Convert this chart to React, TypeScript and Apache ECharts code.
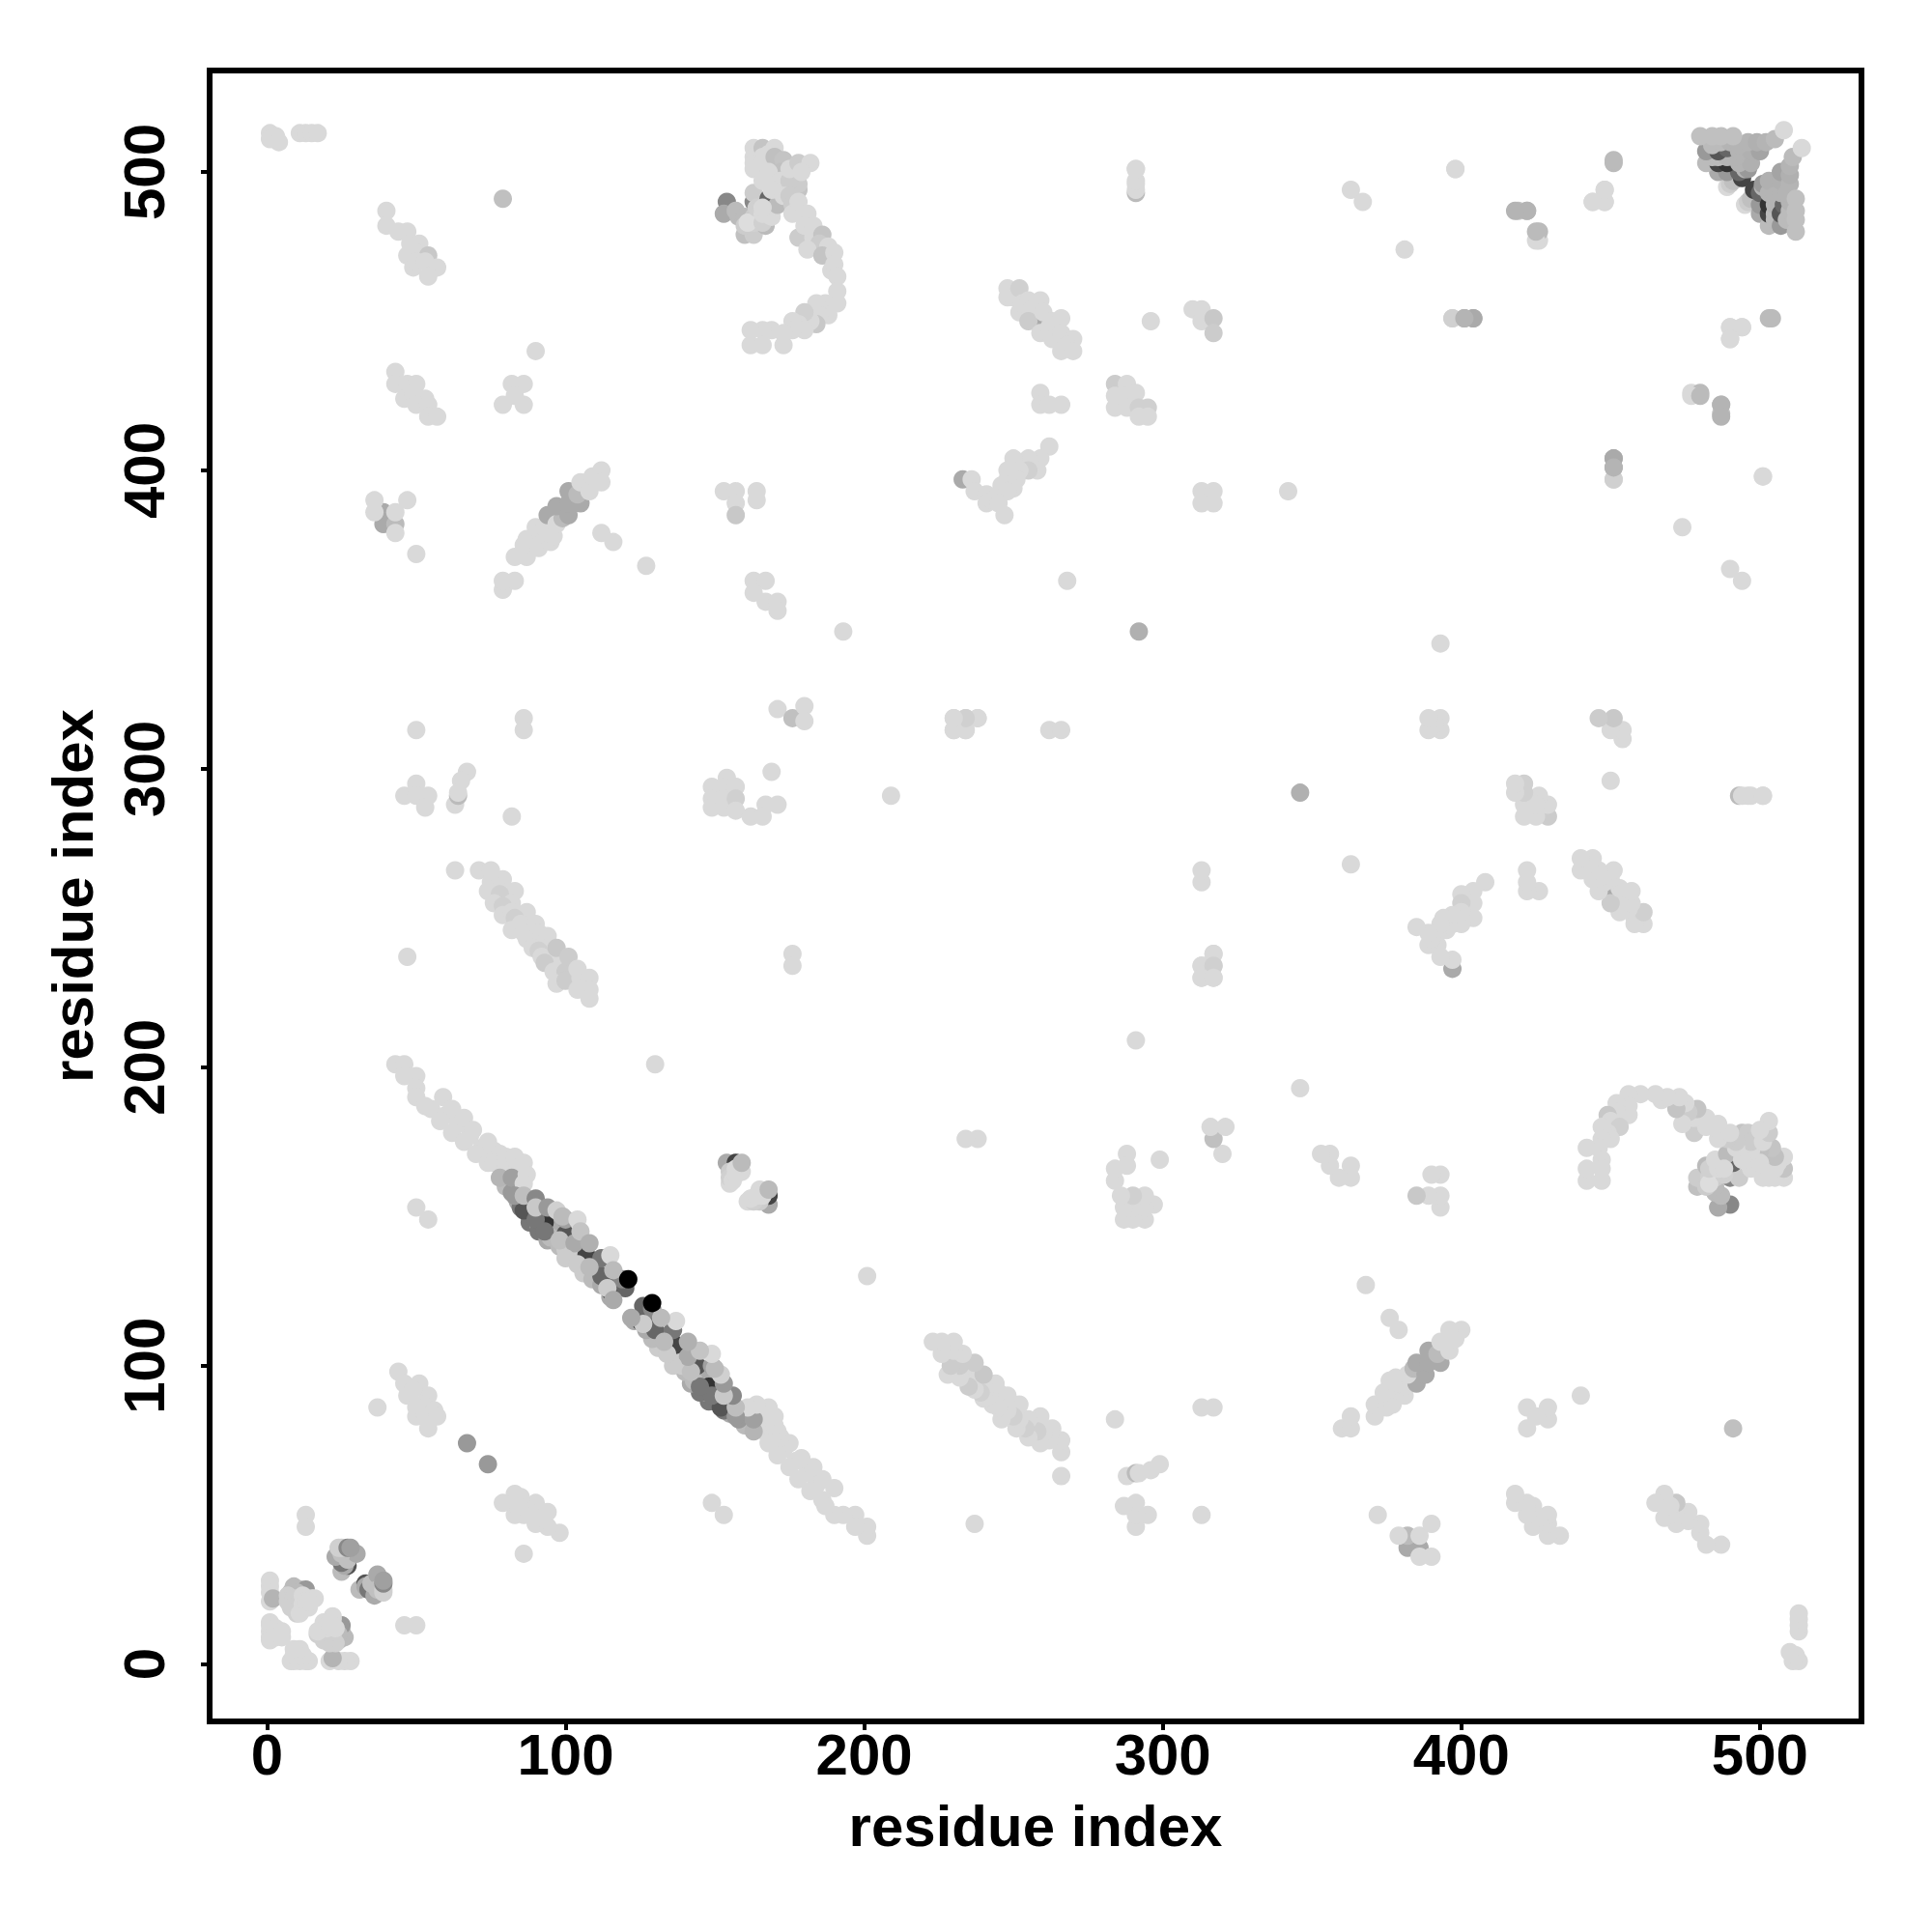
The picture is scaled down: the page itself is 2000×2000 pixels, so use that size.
import React, { useEffect, useRef } from "react";
import * as echarts from "echarts";

type P = [number, number, number];
const L = 217;
const tickValues = [0, 100, 200, 300, 400, 500];
const axisTitle = "residue index";

const cornerLow: P[] = [
  [1, 28, L], [1, 26, L], [1, 24, L], [1, 21, L], [2, 22, 180], [1, 14, L], [1, 13, L], [1, 11, L], [1, 9, L], [1, 8, L], [3, 12, L], [3, 9, L], [5, 11, L], [5, 9, L],
  [9, 26, 187], [11, 25, 187], [13, 25, 153], [8, 24, 187], [10, 24, 187], [7, 23, 208], [7, 21, 208], [9, 22, 208], [10, 20, 208], [8, 19, 208], [10, 17, 208], [11, 19, 208], [12, 20, L], [12, 23, L], [15, 22, L], [16, 22, L], [13, 19, L], [14, 19, L], [11, 17, L], [13, 21, L], [14, 21, L],
  [13, 50, L], [13, 46, L],
  [25, 31, 187], [27, 33, 85], [26, 33, 170], [25, 34, 119], [23, 36, 170], [27, 35, 192], [30, 37, 170], [25, 37, 192], [24, 39, 208], [25, 39, 208], [27, 39, 136], [28, 39, 160],
];

const chainFill: P[] = [
  [80, 160, 187], [83, 160, 187], [84, 155, 170], [87, 155, 153], [82, 158, 153], [85, 153, 119], [88, 150, 119], [88, 148, 119], [91, 151, 136], [91, 147, 153], [91, 145, 119], [94, 150, 153], [94, 146, 119], [94, 142, 170], [97, 147, 170], [95, 143, 187], [98, 140, 187], [101, 143, 119], [101, 140, 187], [104, 138, 170], [100, 139, 204], [103, 136, 204], [107, 134, 187], [106, 131, 204], [110, 132, 153], [109, 129, 187], [113, 128, 119], [112, 127, 170], [116, 127, 119], [115, 123, 170],
];

const chainUpper: P[] = [
  [43, 201, L], [46, 201, L], [50, 197, L], [46, 197, L], [50, 193, L], [50, 190, L], [59, 190, L], [55, 186, L], [53, 187, L], [60, 184, L], [62, 186, L], [58, 182, L], [64, 181, L], [66, 183, L], [62, 178, L], [68, 177, L], [69, 179, L], [66, 175, L], [72, 173, L], [74, 175, L], [70, 171, L], [76, 172, L], [78, 171, L], [74, 168, L], [76, 168, L], [80, 167, L], [80, 170, L], [84, 166, L],
  [78, 163, 181], [82, 163, 160], [83, 170, L], [86, 168, L], [87, 164, L], [86, 161, L],
  [93, 148, 51], [107, 137, 68], [115, 125, 51], [86, 152, 85], [100, 144, 85],
  [83, 157, 153], [86, 157, 190], [90, 149, 119], [93, 145, 119], [112, 130, 102], [120, 126, 102], [112, 136, 119],
  [90, 156, 136], [90, 153, 200], [94, 153, 153], [97, 152, 208], [100, 149, 160], [98, 142, 192], [99, 150, 187], [104, 149, L], [103, 141, 170], [105, 145, 196], [108, 141, 176], [100, 136, 204], [104, 134, 204], [108, 133, 187], [119, 129, 136], [114, 126, 204], [116, 122, 170], [115, 137, L], [116, 132, 187], [121, 129, 0],
];

const chainPair: P[] = [
  [154, 168, 170], [157, 168, 68], [155, 165, 204], [158, 165, 208], [155, 161, L], [155, 163, 208], [156, 162, L], [157, 166, L], [159, 165, L], [157, 164, L], [159, 168, 187],
];

const leftSpots: P[] = [
  [37, 86, L], [44, 98, L], [46, 94, L], [51, 94, L], [47, 90, L], [54, 90, L], [49, 92, L], [52, 87, L], [50, 83, L], [50, 86, L], [53, 84, L], [56, 85, L], [57, 83, L], [54, 79, L], [67, 74, 153], [54, 149, L], [50, 153, L],
  [47, 237, L], [130, 201, L], [50, 313, L], [86, 317, L], [86, 313, L], [171, 320, L], [176, 317, 192], [180, 321, L], [180, 316, L], [193, 346, L], [209, 291, L], [82, 284, L], [169, 299, L], [176, 238, L], [176, 234, L],
];

const band63: P[] = [
  [63, 266, L], [71, 266, L], [75, 266, L], [79, 263, L], [75, 262, L], [77, 260, L], [74, 259, L], [83, 259, L], [78, 258, 208], [76, 255, L], [82, 255, L], [79, 254, 208], [79, 251, L], [82, 252, L], [87, 252, L], [83, 250, 208], [85, 248, L], [88, 246, L], [90, 248, L], [82, 246, L], [86, 245, L], [91, 245, L], [87, 243, L], [90, 242, L], [94, 244, L], [89, 240, L], [94, 240, L], [91, 239, 208], [92, 237, L], [96, 236, L], [97, 240, 200], [93, 235, 204], [101, 234, 170], [98, 233, L], [96, 232, L], [100, 232, 204], [101, 237, 204], [97, 228, L], [100, 229, 204], [104, 233, L], [104, 226, L], [105, 230, L], [108, 230, L], [108, 226, L], [108, 223, L],
];

const mid290: P[] = [
  [67, 299, L], [65, 296, L], [63, 288, L], [64, 291, 187], [64, 292, L], [46, 291, L], [50, 295, L], [50, 291, L], [54, 291, L], [53, 287, L],
  [149, 294, L], [149, 290, L], [149, 287, L], [154, 297, L], [153, 294, L], [153, 290, L], [153, 287, L], [157, 294, L], [157, 290, 208], [157, 286, L], [171, 288, L], [167, 288, L], [162, 284, L], [166, 284, L],
];

const top514: P[] = [
  [1, 513, L], [1, 511, L], [3, 512, L], [4, 510, L], [11, 513, L], [13, 513, L], [15, 513, L], [17, 513, L],
  [40, 487, L], [40, 482, L], [44, 480, L], [47, 480, L], [48, 476, L], [51, 476, L], [47, 472, L], [50, 473, L], [52, 472, L], [54, 472, 200], [49, 468, L], [50, 470, L], [53, 470, L], [57, 468, L], [54, 465, L],
  [79, 491, 192], [90, 440, L], [43, 433, L], [43, 429, L], [47, 429, L], [50, 429, L], [46, 424, L], [49, 426, L], [53, 424, L], [50, 422, L], [54, 422, L], [54, 418, L], [57, 418, L],
  [82, 429, L], [86, 429, L], [79, 422, L], [86, 422, L], [83, 425, L],
  [39, 386, 170], [39, 382, 170], [36, 390, L], [36, 386, L], [43, 382, 187], [43, 386, L], [43, 379, L], [47, 390, L], [50, 372, L],
];

const arc385: P[] = [
  [83, 371, L], [87, 371, L], [86, 375, L], [87, 377, L], [92, 377, L], [91, 374, L], [95, 376, L], [90, 381, L], [93, 381, L], [94, 379, L], [96, 378, L], [94, 385, 170], [97, 382, L], [99, 384, 187], [97, 388, 170], [101, 385, 170], [101, 389, 170], [101, 393, 170], [105, 389, 170], [104, 392, 187], [105, 396, L], [108, 393, L], [109, 398, L], [112, 400, L], [112, 396, L],
  [112, 379, L], [116, 376, L], [127, 368, L], [79, 360, L], [79, 363, L], [83, 363, L],
];

const cluster160: P[] = [
  [154, 490, 136], [153, 486, 170], [158, 485, 187], [157, 487, 187], [160, 479, 192], [163, 479, 204], [163, 490, 136], [160, 485, 187], [160, 482, 204], [163, 485, 204], [163, 493, 204], [167, 482, 187], [163, 483, 208], [161, 483, 221], [164, 488, 208], [166, 483, 208], [166, 486, L], [169, 485, L],
  [168, 491, 102], [168, 503, 153], [170, 499, 170], [171, 495, 187], [171, 489, 187], [163, 508, L], [163, 505, L], [163, 503, L], [163, 501, L], [166, 508, 196], [166, 505, L], [166, 503, L], [170, 508, L], [168, 506, L], [170, 505, 192], [173, 504, 196], [172, 500, 192], [166, 497, L], [168, 500, L], [172, 497, L], [169, 494, L], [166, 488, L], [178, 494, 196], [178, 496, 204], [175, 497, 204], [173, 492, L], [175, 492, 204], [175, 501, L], [178, 503, 204], [182, 503, L], [179, 500, L], [176, 489, 204], [176, 486, L], [179, 486, L], [178, 490, L], [181, 486, L], [178, 478, 204], [180, 482, L], [183, 482, L], [183, 478, L], [186, 479, 196], [185, 476, 204], [181, 474, L], [188, 475, L], [186, 472, 196], [190, 473, L], [189, 467, L], [190, 469, L], [191, 465, L], [191, 460, L], [191, 456, L], [187, 456, L], [188, 452, L], [184, 456, L], [185, 452, L], [184, 449, 200], [182, 450, L], [180, 453, 208], [178, 449, L], [176, 450, L], [180, 447, L], [176, 447, L], [173, 446, L], [173, 442, L], [169, 447, L], [166, 447, L], [162, 447, L], [162, 442, L], [166, 442, L],
];

const midUpper: P[] = [
  [291, 493, 187], [291, 501, L], [291, 496, L],
  [258, 450, 170], [248, 461, L], [248, 458, L], [250, 458, L], [252, 461, 208], [252, 453, L], [253, 456, L], [255, 457, L], [256, 454, L], [259, 457, L], [255, 450, 204], [259, 446, L], [260, 453, L], [263, 450, L], [262, 448, L], [264, 447, L], [266, 451, L], [263, 444, L], [266, 446, L], [270, 444, L], [268, 442, L], [266, 440, L], [270, 440, L], [296, 450, L],
  [259, 426, L], [259, 422, L], [262, 422, L], [266, 422, L],
  [284, 429, 204], [288, 429, L], [284, 421, L], [284, 425, L], [291, 426, L], [288, 425, L], [288, 421, L], [292, 421, 208], [295, 421, 208], [292, 418, L], [295, 418, L],
  [233, 397, 170], [262, 408, L], [259, 404, L], [255, 404, L], [250, 404, L], [258, 400, L], [255, 400, 208], [248, 400, L], [252, 400, L], [248, 397, L], [251, 397, L], [246, 395, L], [250, 394, L], [236, 397, L], [237, 393, L], [241, 392, L], [245, 392, L], [248, 393, L], [241, 389, L], [243, 390, L], [245, 389, L], [247, 385, L],
  [153, 393, L], [157, 393, L], [157, 389, L], [157, 385, 200], [164, 393, L], [164, 390, L],
  [163, 363, L], [167, 363, L], [163, 359, L], [167, 356, L], [171, 356, L], [171, 353, L], [268, 363, L],
];

const rightUpper: P[] = [
  [342, 393, L], [313, 393, L], [317, 393, L], [315, 391, L], [313, 389, L], [317, 389, L],
  [363, 494, L], [367, 490, L], [381, 474, L],
  [310, 454, L], [313, 454, L], [313, 450, L], [317, 451, 200], [317, 446, 204],
  [398, 501, L], [451, 503, 187], [419, 487, 192], [422, 487, 192], [426, 477, L], [426, 480, 187], [444, 490, L], [448, 490, L], [448, 494, L],
  [397, 451, L], [401, 451, 176], [404, 451, 176],
  [490, 448, L], [494, 448, L], [490, 444, L], [504, 451, 187],
  [477, 425, L], [480, 425, 187], [487, 422, 180], [487, 418, 180],
  [451, 397, 208], [451, 404, 170], [451, 401, 180], [501, 398, L],
  [292, 346, 176], [230, 317, L], [234, 317, L], [238, 317, L], [230, 313, L], [234, 313, L], [262, 313, L], [266, 313, L],
  [317, 238, L], [313, 234, L], [317, 234, 208], [313, 230, L], [317, 230, L], [494, 291, L], [497, 291, L], [501, 291, L],
];

const cornerHigh: P[] = [
  [489, 495, L], [490, 496, 204], [491, 497, 192], [494, 498, 68],
  [486, 500, 170], [489, 500, 153], [493, 500, 102], [495, 501, 180], [496, 501, 153],
  [482, 503, 187], [486, 503, 68], [489, 503, 51], [493, 503, 180], [497, 503, 176],
  [484, 505, 187], [486, 505, 187], [489, 505, 180], [492, 505, 180],
  [482, 507, 153], [486, 507, 85], [489, 508, 102], [493, 507, 180], [497, 507, 176], [500, 507, 164],
  [484, 509, 187], [487, 510, 187], [490, 510, 180], [493, 509, 180], [496, 510, 180], [499, 510, 176], [502, 510, 180],
  [480, 512, 192], [484, 512, 192], [487, 512, 192], [491, 512, 192], [505, 511, 187], [508, 514, L],
];

const halves = [
  cornerLow, chainFill, chainUpper, chainPair, leftSpots, band63, mid290, top514, arc385, cluster160, midUpper, rightUpper, cornerHigh,
];

const points = halves.flat().flatMap(([i, j, g]) => [[i, j, g], [j, i, g]]);

export default function App() {
  const ref = useRef<HTMLDivElement>(null);
  useEffect(() => {
    const chart = echarts.init(ref.current!, undefined, { renderer: "svg" });
    const labelFont = { fontFamily: "Liberation Sans", fontWeight: "bold" as const, fontSize: 60, color: "#000" };
    const axisCommon = {
      type: "value" as const,
      name: axisTitle,
      nameLocation: "middle" as const,
      nameTextStyle: { ...labelFont },
      splitLine: { show: false },
      axisLine: { show: true, onZero: false, lineStyle: { color: "#000", width: 1 } },
      axisTick: { show: true, length: 9, lineStyle: { color: "#000", width: 4 }, customValues: tickValues },
    };
    chart.setOption({
      animation: false,
      backgroundColor: "#fff",
      grid: { left: 217, top: 73, width: 1710, height: 1709, show: true, borderColor: "#000", borderWidth: 6, backgroundColor: "#fff", containLabel: false },
      xAxis: { ...axisCommon, min: -19.2, max: 534, nameGap: 78, axisLabel: { ...labelFont, margin: 4, customValues: tickValues } },
      yAxis: { ...axisCommon, min: -19.2, max: 534, nameGap: 112, axisLabel: { ...labelFont, rotate: 90, margin: 38, customValues: tickValues } },
      series: [{
        type: "scatter",
        data: points,
        symbol: "circle",
        symbolSize: 19,
        itemStyle: {
          opacity: 1,
          color: (p: any) => { const g = p.data[2]; return `rgb(${g},${g},${g})`; },
        },
        encode: { x: 0, y: 1 },
      }],
    });
    return () => chart.dispose();
  }, []);
  return <div ref={ref} style={{ position: "absolute", left: 0, top: 0, width: 2000, height: 2000 }} />;
}
